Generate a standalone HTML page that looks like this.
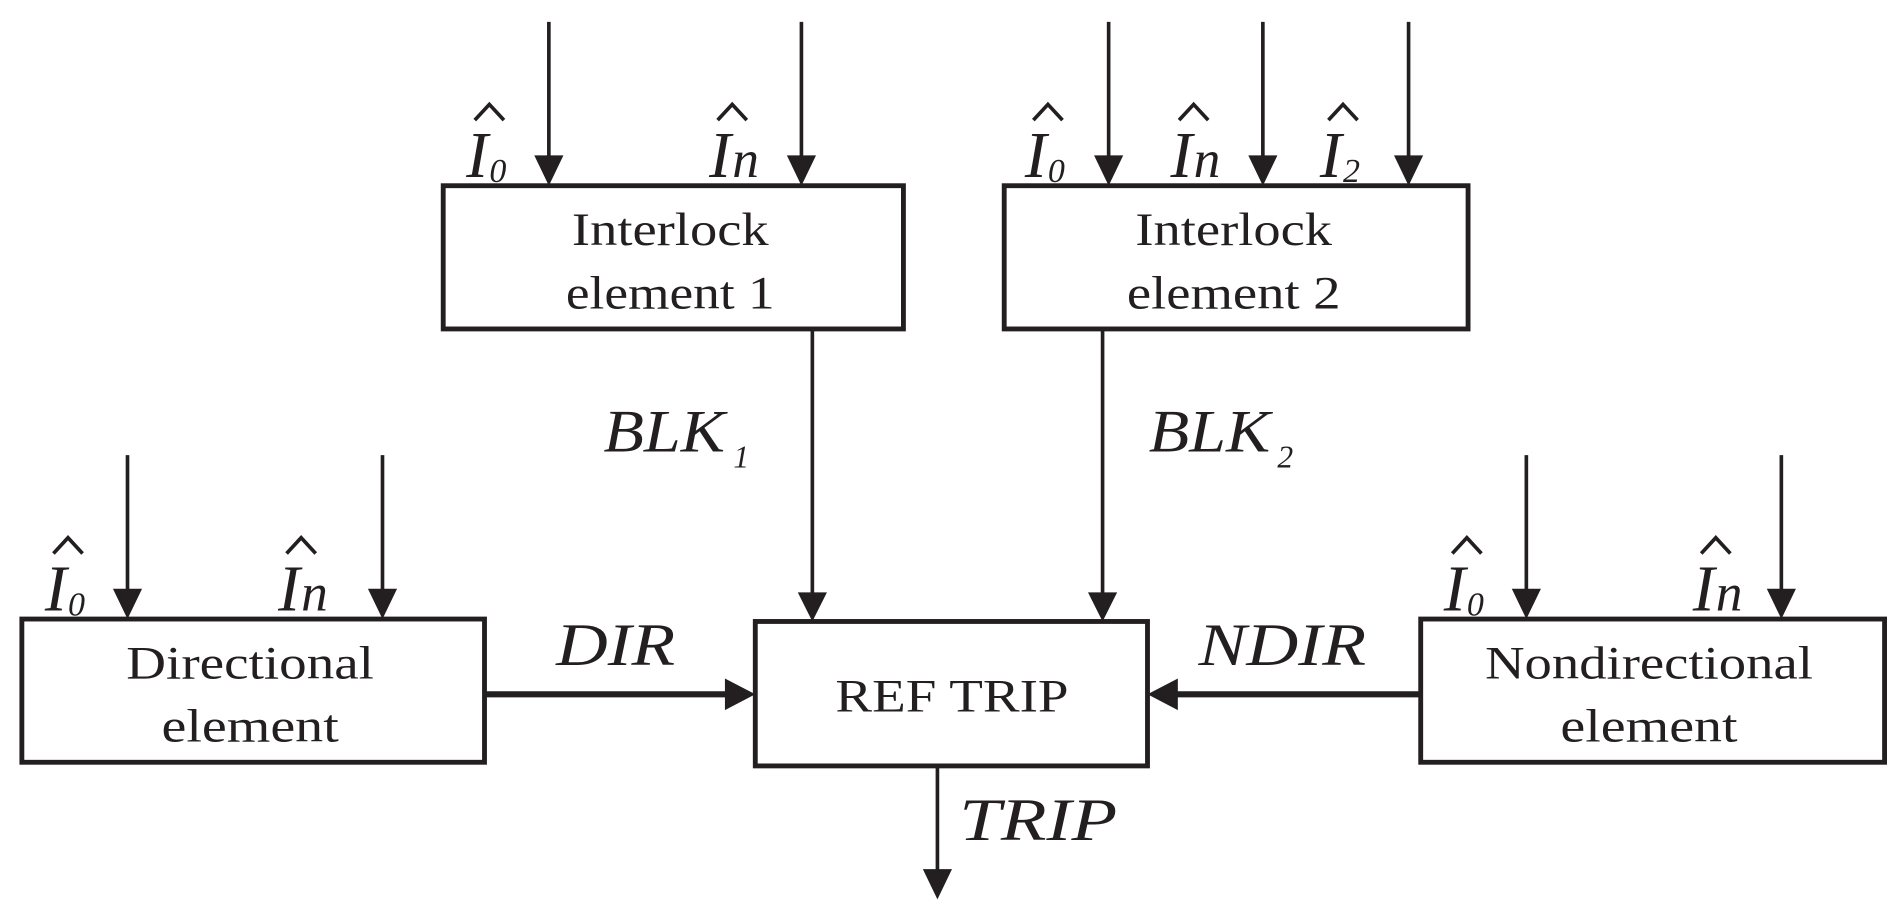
<!DOCTYPE html>
<html><head><style>html,body{margin:0;padding:0;background:#fff}svg{display:block}</style></head>
<body>
<svg width="1904" height="914" viewBox="0 0 1568 753" preserveAspectRatio="none" xmlns="http://www.w3.org/2000/svg">
<g fill="none" stroke="#231f20" stroke-width="4">
<rect x="365" y="153" width="379" height="118"/>
<rect x="827" y="153" width="382" height="118"/>
<rect x="18" y="510" width="381" height="118"/>
<rect x="622" y="512" width="323" height="119"/>
<rect x="1170" y="510" width="382" height="118"/>
</g>
<g stroke="#231f20" stroke-width="3">
<line x1="452" y1="18" x2="452" y2="130"/>
<line x1="660" y1="18" x2="660" y2="130"/>
<line x1="913" y1="18" x2="913" y2="130"/>
<line x1="1040" y1="18" x2="1040" y2="130"/>
<line x1="1160" y1="18" x2="1160" y2="130"/>
<line x1="105" y1="375" x2="105" y2="487"/>
<line x1="315" y1="375" x2="315" y2="487"/>
<line x1="1257" y1="375" x2="1257" y2="487"/>
<line x1="1467" y1="375" x2="1467" y2="487"/>
<line x1="669" y1="271" x2="669" y2="489"/>
<line x1="908" y1="271" x2="908" y2="489"/>
<line x1="772" y1="631" x2="772" y2="718"/>
</g>
<g stroke="#231f20" stroke-width="5">
<line x1="399" y1="572" x2="600" y2="572"/>
<line x1="1170" y1="572" x2="967" y2="572"/>
</g>
<g fill="#231f20">
<polygon points="440,128 464,128 452,153"/>
<polygon points="648,128 672,128 660,153"/>
<polygon points="901,128 925,128 913,153"/>
<polygon points="1028,128 1052,128 1040,153"/>
<polygon points="1148,128 1172,128 1160,153"/>
<polygon points="93,485 117,485 105,510"/>
<polygon points="303,485 327,485 315,510"/>
<polygon points="1245,485 1269,485 1257,510"/>
<polygon points="1455,485 1479,485 1467,510"/>
<polygon points="657,488 681,488 669,512"/>
<polygon points="896,488 920,488 908,512"/>
<polygon points="760,716 784,716 772,741"/>
<polygon points="597,559 597,585 622,572"/>
<polygon points="970,559 970,585 945,572"/>
</g>
<g font-family="Liberation Serif, serif" font-size="38" fill="#231f20" text-anchor="middle">
<text x="552" y="202" textLength="162" lengthAdjust="spacingAndGlyphs">Interlock</text><text x="552" y="254" textLength="172" lengthAdjust="spacingAndGlyphs">element 1</text>
<text x="1016" y="202" textLength="162" lengthAdjust="spacingAndGlyphs">Interlock</text><text x="1016" y="254" textLength="176" lengthAdjust="spacingAndGlyphs">element 2</text>
<text x="206" y="559" textLength="204" lengthAdjust="spacingAndGlyphs">Directional</text><text x="206" y="611" textLength="146" lengthAdjust="spacingAndGlyphs">element</text>
<text x="784" y="586" textLength="192" lengthAdjust="spacingAndGlyphs">REF TRIP</text>
<text x="1358" y="559" textLength="270" lengthAdjust="spacingAndGlyphs">Nondirectional</text><text x="1358" y="611" textLength="146" lengthAdjust="spacingAndGlyphs">element</text>
</g>
<g font-family="Liberation Serif, serif" font-style="italic" font-size="50" fill="#231f20">
<text x="497" y="372" textLength="100" lengthAdjust="spacingAndGlyphs">BLK</text><text x="604" y="385" font-size="26">1</text>
<text x="946" y="372" textLength="100" lengthAdjust="spacingAndGlyphs">BLK</text><text x="1052" y="385" font-size="26">2</text>
<text x="458" y="548" textLength="98" lengthAdjust="spacingAndGlyphs">DIR</text>
<text x="987" y="548" textLength="138" lengthAdjust="spacingAndGlyphs">NDIR</text>
<text x="790" y="692" textLength="130" lengthAdjust="spacingAndGlyphs">TRIP</text>
</g>
<g font-family="Liberation Serif, serif" font-style="italic" font-size="54" fill="#231f20">
<text x="384" y="146">I</text><text x="403" y="150" font-size="28">0</text>
<text x="584" y="146">I</text><text x="603" y="146" font-size="44">n</text>
<text x="844" y="146">I</text><text x="863" y="150" font-size="28">0</text>
<text x="964" y="146">I</text><text x="983" y="146" font-size="44">n</text>
<text x="1087" y="146">I</text><text x="1106" y="150" font-size="28">2</text>
<text x="37" y="503">I</text><text x="56" y="507" font-size="28">0</text>
<text x="229" y="503">I</text><text x="248" y="503" font-size="44">n</text>
<text x="1189" y="503">I</text><text x="1208" y="507" font-size="28">0</text>
<text x="1394" y="503">I</text><text x="1413" y="503" font-size="44">n</text>
</g>
<g fill="none" stroke="#231f20" stroke-width="3">
<path d="M391,99 L403,86 L415,99"/>
<path d="M591,99 L603,86 L615,99"/>
<path d="M851,99 L863,86 L875,99"/>
<path d="M971,99 L983,86 L995,99"/>
<path d="M1094,99 L1106,86 L1118,99"/>
<path d="M44,456 L56,443 L68,456"/>
<path d="M236,456 L248,443 L260,456"/>
<path d="M1196,456 L1208,443 L1220,456"/>
<path d="M1401,456 L1413,443 L1425,456"/>
</g>
</svg>
</body></html>
